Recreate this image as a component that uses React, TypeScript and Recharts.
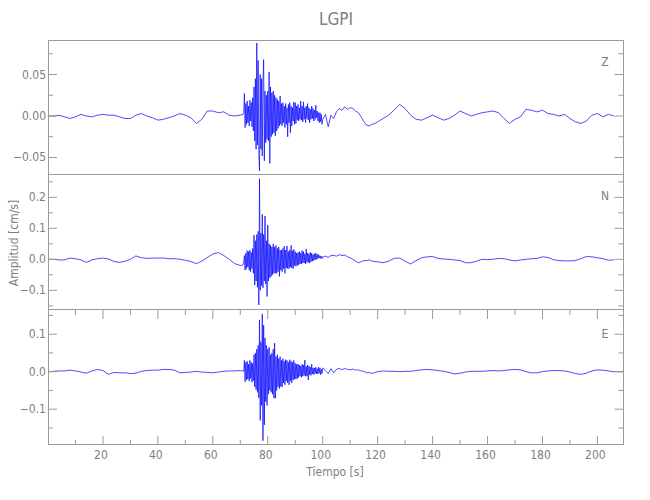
import { LineChart, Line, XAxis, YAxis } from "recharts";

// sample times (s): quiet every 2 s, burst every 0.25 s, coda every 1 s, tail every 2 s
const steps = (start: number, step: number, count: number) =>
  Array.from({ length: count }, (_, i) => +(start + i * step).toFixed(2));

const tQuiet = steps(0, 2, 36);
const tBurst = steps(71, 0.25, 117);
const tCoda = steps(101, 1, 20);
const tTail = steps(122, 2, 43);
const tEnd = [208, 209.5];

// Z component (cm/s)
const zQuiet = [
  0, 0, 0.001, -0.001, -0.003, -0.001,
  0.002, 0, -0.001, 0.001, 0.002, 0.001,
  0.001, -0.001, -0.003, -0.003, 0.001, 0.003,
  0, -0.002, -0.005, -0.004, -0.002, 0,
  0.003, 0.001, -0.002, -0.009, -0.004, 0.006,
  0.006, 0.004, 0.005, 0.001, 0, 0.001,
];
const zBurst = [
  0.002, 0.004, 0.027, -0.014,
  0.015, -0.01, 0.018, -0.008,
  0.012, -0.012, 0.019, -0.006,
  0.016, -0.013, 0.022, -0.018,
  0.035, -0.03, 0.045, -0.04,
  0.088, -0.035, 0.067, -0.045,
  -0.066, 0.05, -0.04, 0.045,
  -0.048, 0.04, 0.068, -0.054,
  0.03, -0.032, 0.025, -0.028,
  0.03, -0.03, 0.053, -0.057,
  0.035, -0.025, 0.028, -0.022,
  0.03, -0.02, 0.025, -0.024,
  0.022, -0.018, 0.02, -0.015,
  0.018, -0.012, 0.024, -0.01,
  0.015, -0.012, 0.016, -0.008,
  0.012, -0.014, 0.015, -0.01,
  0.01, -0.025, 0.014, -0.008,
  0.016, -0.02, 0.012, -0.012,
  0.01, -0.006, 0.017, -0.01,
  0.016, -0.009, 0.012, -0.005,
  0.014, -0.006, 0.01, -0.004,
  0.018, -0.005, 0.012, -0.007,
  0.017, -0.004, 0.01, -0.008,
  0.012, -0.003, 0.015, -0.005,
  0.01, -0.008, 0.008, -0.004,
  0.012, -0.003, 0.009, -0.006,
  0.007, -0.004, 0.013, -0.002,
  0.006, -0.006, 0.004, -0.008,
  0.004, -0.007, 0.002, -0.01,
  -0.004,
];
const zCoda = [
  0.002, -0.013, 0.001, -0.003, 0.005, 0.009, 0.007, 0.011, 0.008, 0.01,
  0.009, 0.006, 0.004, -0.001, -0.007, -0.011, -0.012, -0.01, -0.009, -0.007,
];
const zTail = [
  -0.003, 0.001, 0.007, 0.014, 0.009, 0.001, -0.004, -0.005, -0.002, 0.001,
  -0.002, -0.005, -0.003, 0.001, 0.006, 0.003, 0, 0.002, 0.004, 0.005,
  0.006, 0.004, -0.003, -0.009, -0.004, -0.001, 0.008, 0.007, 0.005, 0.007,
  0.003, 0.002, 0, 0.002, -0.003, -0.007, -0.009, -0.006, 0.001, 0.003,
  -0.001, 0.002, 0,
];

// N component (cm/s)
const nQuiet = [
  0, 0, -0.002, -0.002, 0.004, 0.002,
  -0.002, -0.01, -0.002, 0.002, 0.004, 0.001,
  -0.007, -0.01, -0.006, 0, 0.011, 0.005,
  0.003, 0.004, 0.004, 0.004, 0.002, 0.002,
  0, -0.003, -0.007, -0.014, -0.006, 0.006,
  0.017, 0.022, 0.012, 0, -0.014, -0.02,
];
const nBurst = [
  -0.018, -0.01, 0.012, -0.035,
  0.02, -0.03, 0.028, -0.025,
  0.025, -0.035, 0.03, -0.04,
  0.022, -0.03, 0.035, -0.045,
  0.078, -0.083, 0.06, -0.07,
  0.08, -0.09, 0.09, -0.147,
  0.26, -0.1, 0.085, -0.085,
  0.145, -0.092, 0.08, -0.07,
  0.14, -0.08, 0.06, -0.12,
  0.11, -0.07, 0.05, -0.06,
  0.045, -0.055, 0.04, -0.05,
  0.05, -0.045, 0.04, -0.045,
  0.045, -0.045, 0.035, -0.04,
  0.04, -0.055, 0.03, -0.035,
  0.03, -0.04, 0.035, -0.03,
  0.042, -0.045, 0.03, -0.028,
  0.043, -0.03, 0.025, -0.03,
  0.03, -0.025, 0.045, -0.028,
  0.028, -0.03, 0.032, -0.02,
  0.025, -0.022, 0.02, -0.02,
  0.022, -0.018, 0.025, -0.015,
  0.02, -0.015, 0.028, -0.012,
  0.025, -0.012, 0.018, -0.015,
  0.033, -0.01, 0.02, -0.01,
  0.018, -0.012, 0.022, -0.008,
  0.02, -0.006, 0.015, -0.004,
  0.018, -0.002, 0.02, 0,
  0.016, 0.002, 0.015, 0.004,
  0.012, 0.003, 0.01, 0.002,
  0.008,
];
const nCoda = [
  0.01, 0.006, 0.012, 0.013, 0.01, 0.015, 0.012, 0.014, 0.008, 0.005,
  0, -0.006, -0.011, -0.008, -0.004, -0.004, -0.002, -0.006, -0.007, -0.008,
];
const nTail = [
  -0.011, -0.006, 0.003, 0.004, -0.006, -0.015, -0.004, 0.005, 0.008, 0.009,
  0.003, 0.001, 0, -0.002, -0.004, -0.011, -0.011, -0.006, 0, -0.001,
  0, 0.003, 0.002, -0.002, -0.005, -0.002, 0, 0.002, 0.003, 0.008,
  0.006, -0.001, -0.004, -0.005, -0.005, -0.004, 0.002, 0.009, 0.008, 0.005,
  0.002, -0.003, -0.002,
];

// E component (cm/s)
const eQuiet = [
  0, 0.001, 0.002, 0.002, 0.004, 0.002,
  -0.001, -0.004, 0.002, 0.006, 0.003, -0.007,
  -0.002, -0.003, -0.003, -0.005, -0.004, 0.001,
  0.003, 0.004, 0.004, 0.006, 0.006, 0.004,
  -0.003, -0.002, -0.001, 0.001, -0.001, -0.002,
  -0.003, -0.001, 0.001, 0.002, 0.002, 0.003,
];
const eBurst = [
  0.002, 0.001, 0.03, -0.027,
  0.025, -0.022, 0.028, -0.02,
  0.02, -0.025, 0.03, -0.018,
  0.025, -0.028, 0.022, -0.024,
  0.045, -0.04, 0.05, -0.048,
  0.06, -0.055, 0.07, -0.07,
  0.138, -0.13, 0.08, -0.09,
  0.154, -0.184, 0.124, -0.142,
  0.09, -0.08, 0.07, -0.09,
  0.06, -0.06, 0.065, -0.05,
  0.045, -0.055, 0.05, -0.06,
  0.06, -0.07, 0.076, -0.071,
  0.04, -0.05, 0.045, -0.04,
  0.035, -0.045, 0.04, -0.04,
  0.03, -0.04, 0.035, -0.03,
  0.028, -0.035, 0.032, -0.025,
  0.03, -0.03, 0.025, -0.035,
  0.032, -0.025, 0.028, -0.03,
  0.025, -0.022, 0.03, -0.02,
  0.022, -0.02, 0.02, -0.018,
  0.02, -0.015, 0.018, -0.012,
  0.015, -0.015, 0.02, -0.012,
  0.018, -0.01, 0.031, -0.012,
  0.014, -0.012, 0.018, -0.022,
  0.015, -0.008, 0.012, -0.01,
  0.02, -0.006, 0.01, -0.008,
  0.01, -0.005, 0.012, -0.006,
  0.008, -0.006, 0.012, -0.004,
  0.01, -0.008, 0.006, -0.005,
  0.01,
];
const eCoda = [
  0.003, -0.005, 0.008, -0.003, 0.006, 0.009, 0.005, 0.009, 0.006, 0.005,
  0.007, 0.004, 0.005, 0.002, 0.001, -0.003, -0.002, -0.005, -0.002, 0,
];
const eTail = [
  0.002, 0.001, 0.001, 0, 0.001, 0.001, 0.003, 0.005, 0.006, 0.005,
  0.003, 0.001, -0.002, -0.006, -0.004, -0.001, 0.001, 0.001, 0.001, 0.002,
  0.003, 0.002, 0.003, 0.005, 0.006, 0.005, 0, -0.003, -0.003, 0,
  0.002, 0.003, 0.003, 0.002, -0.001, -0.005, -0.007, -0.004, 0.002, 0.005,
  0.004, 0.002, 0,
];
const eEnd = [0, 0];

const xTicks = [10, 20, 30, 40, 50, 60, 70, 80, 90, 100, 110, 120, 130, 140, 150, 160, 170, 180, 190, 200];

const time = [...tQuiet, ...tBurst, ...tCoda, ...tTail, ...tEnd];
const zAll = [...zQuiet, ...zBurst, ...zCoda, ...zTail];
const nAll = [...nQuiet, ...nBurst, ...nCoda, ...nTail];
const eAll = [...eQuiet, ...eBurst, ...eCoda, ...eTail, ...eEnd];

const rows = time.map((t, i) => ({
  t,
  z: zAll[i] ?? null,
  n: nAll[i] ?? null,
  e: eAll[i] ?? null,
}));

const W = 650;
const PLOT_LEFT = 48;
const PLOT_RIGHT = 623.5;
const PLOT_W = PLOT_RIGHT - PLOT_LEFT;
const PANEL_H = 135;
const FRAME = "#9a9a9a";
const INK = "#808080";
const FONT = "'Liberation Sans Narrow', 'DejaVu Sans Condensed', 'Liberation Sans', sans-serif";

const minus = (s: string) => s.replace("-", "\u2212");

function XTick(props: any) {
  const { x, y, payload, showLabel } = props;
  const v = payload.value;
  const major = v % 20 === 0;
  const len = major ? 9 : 5;
  return (
    <g>
      <line x1={x} x2={x} y1={y} y2={y - len} stroke={FRAME} />
      <line x1={x} x2={x} y1={y - PANEL_H} y2={y - PANEL_H + len} stroke={FRAME} />
      {showLabel && major && (
        <text x={x - 2} y={y + 14} textAnchor="middle" fill={INK} fontSize={12} fontFamily={FONT}>
          {v}
        </text>
      )}
    </g>
  );
}

function YTick(props: any) {
  const { x, y, payload, majors, digits } = props;
  const v = payload.value;
  const major = majors.includes(v);
  const len = major ? 9 : 5;
  return (
    <g>
      <line x1={x} x2={x + len} y1={y} y2={y} stroke={FRAME} />
      <line x1={x + PLOT_W} x2={x + PLOT_W - len} y1={y} y2={y} stroke={FRAME} />
      {major && (
        <text x={x - 2} y={y + 4} textAnchor="end" fill={INK} fontSize={12} fontFamily={FONT}>
          {minus(v.toFixed(digits))}
        </text>
      )}
    </g>
  );
}

type PanelProps = {
  top: number;
  dataKey: string;
  domain: [number, number];
  ticks: number[];
  majors: number[];
  digits: number;
  tag: string;
  tagY: number;
  first?: boolean;
  last?: boolean;
};

function Panel({ top, dataKey, domain, ticks, majors, digits, tag, tagY, first, last }: PanelProps) {
  const h = last ? PANEL_H + 40 : PANEL_H;
  return (
    <div style={{ position: "absolute", left: 0, top, width: W, height: h }}>
      <LineChart
        width={W}
        height={h}
        data={rows}
        margin={{ top: 0, right: W - PLOT_RIGHT, bottom: 0, left: 0 }}
      >
        <XAxis
          dataKey="t"
          type="number"
          domain={[0, 209.5]}
          ticks={xTicks}
          interval={0}
          allowDataOverflow
          axisLine={false}
          tickLine={false}
          tickSize={0}
          tickMargin={0}
          height={last ? 40 : 0}
          tick={(p: any) => <XTick {...p} showLabel={!!last} />}
        />
        <YAxis
          type="number"
          domain={domain}
          ticks={ticks}
          interval={0}
          allowDataOverflow
          width={PLOT_LEFT}
          axisLine={false}
          tickLine={false}
          tickSize={0}
          tickMargin={0}
          tick={(p: any) => <YTick {...p} majors={majors} digits={digits} />}
        />
        <Line
          type="linear"
          dataKey={dataKey}
          stroke="#0000ff"
          strokeWidth={0.7}
          dot={false}
          isAnimationActive={false}
        />
      </LineChart>
      <div
        style={{
          position: "absolute",
          left: PLOT_LEFT,
          top: 0,
          width: PLOT_W,
          height: PANEL_H,
          boxSizing: "border-box",
          border: `1px solid ${FRAME}`,
          borderTopWidth: first ? 1 : 0,
          pointerEvents: "none",
        }}
      />
      <div
        style={{
          position: "absolute",
          left: 605,
          top: tagY,
          transform: "translate(-50%, -50%)",
          color: INK,
          fontFamily: FONT,
          fontSize: 12,
        }}
      >
        {tag}
      </div>
    </div>
  );
}

export default function App() {
  return (
    <div
      style={{
        position: "absolute",
        left: 0,
        top: 0,
        width: W,
        height: 500,
        background: "#fff",
        overflow: "hidden",
      }}
    >
      <div
        style={{
          position: "absolute",
          left: 336,
          top: 19,
          transform: "translate(-50%, -50%)",
          color: INK,
          fontFamily: FONT,
          fontSize: 17,
        }}
      >
        LGPI
      </div>
      <Panel
        top={40}
        dataKey="z"
        domain={[-0.0711, 0.0916]}
        ticks={[-0.05, -0.025, 0, 0.025, 0.05, 0.075]}
        majors={[-0.05, 0, 0.05]}
        digits={2}
        tag="Z"
        tagY={22}
        first
      />
      <Panel
        top={175}
        dataKey="n"
        domain={[-0.1635, 0.272]}
        ticks={[-0.15, -0.1, -0.05, 0, 0.05, 0.1, 0.15, 0.2, 0.25]}
        majors={[-0.1, 0, 0.1, 0.2]}
        digits={1}
        tag="N"
        tagY={21}
      />
      <Panel
        top={310}
        dataKey="e"
        domain={[-0.1955, 0.1645]}
        ticks={[-0.15, -0.1, -0.05, 0, 0.05, 0.1, 0.15]}
        majors={[-0.1, 0, 0.1]}
        digits={1}
        tag="E"
        tagY={24}
        last
      />
      <div
        style={{
          position: "absolute",
          left: 14,
          top: 243,
          transform: "translate(-50%, -50%) rotate(-90deg)",
          color: INK,
          fontFamily: FONT,
          fontSize: 12,
          whiteSpace: "nowrap",
        }}
      >
        Amplitud [cm/s]
      </div>
      <div
        style={{
          position: "absolute",
          left: 335,
          top: 472,
          transform: "translate(-50%, -50%)",
          color: INK,
          fontFamily: FONT,
          fontSize: 12,
          whiteSpace: "nowrap",
        }}
      >
        Tiempo [s]
      </div>
    </div>
  );
}
